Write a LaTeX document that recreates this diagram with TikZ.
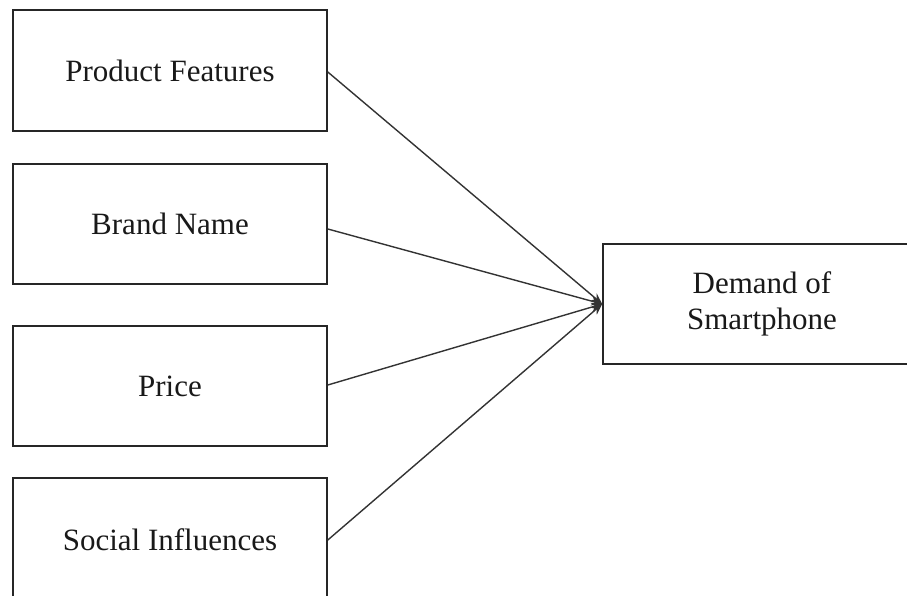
\documentclass[tikz,border=0pt]{standalone}
\usepackage{fontspec}
\setmainfont{Liberation Serif}
\usetikzlibrary{arrows.meta}
\begin{document}
\begin{tikzpicture}[x=1pt,y=-1pt,
  box/.style={draw=black!85,line width=1.6pt,minimum width=314pt,inner sep=0pt,
    font=\fontsize{31}{36}\selectfont,align=center,text=black!90},
  conn/.style={draw=black!80,line width=1.4pt,-{Stealth[length=11pt,width=9pt]}}]
\useasboundingbox (0,0) rectangle (907,596);
\clip (0,0) rectangle (907,596);
\node[box,minimum height=121pt] (pf) at (170,70.5) {Product Features};
\node[box,minimum height=120pt] (bn) at (170,224) {Brand Name};
\node[box,minimum height=120pt] (pr) at (170,386) {Price};
\node[box,minimum height=124pt] (si) at (170,540) {Social Influences};
\node[box,minimum width=318pt,minimum height=120pt] (dm) at (762,304) {Demand of\\Smartphone};
\draw[conn] (pf.east) ++(0,1.5) -- (dm.west);
\draw[conn] (bn.east) ++(0,5) -- (dm.west);
\draw[conn] (pr.east) ++(0,-1) -- (dm.west);
\draw[conn] (si.east) -- (dm.west);
\end{tikzpicture}
\end{document}
